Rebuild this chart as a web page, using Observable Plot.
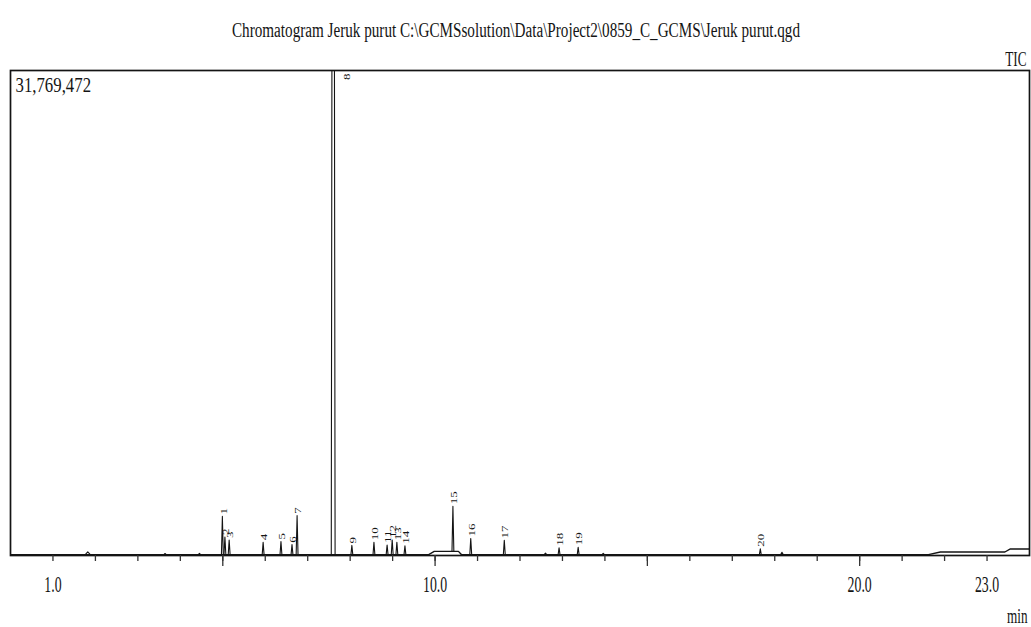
<!DOCTYPE html>
<html><head><meta charset="utf-8">
<script src="https://cdn.jsdelivr.net/npm/d3@7"></script>
<script src="https://cdn.jsdelivr.net/npm/@observablehq/plot@0.6"></script>
<style>html,body{margin:0;padding:0;background:#fff;} svg{display:block}</style>
</head><body><div id="chart"></div>
<script>
// ---- data ----
const chartTitle = "Chromatogram Jeruk purut C:\\GCMSsolution\\Data\\Project2\\0859_C_GCMS\\Jeruk purut.qgd";
const signalName = "TIC";
const unitName = "min";
const maxIntensity = 31769472;

const peakLabels  = ["1","2","3","4","5","6","7","8","9","10","11","12","13","14","15","16","17","18","19","20"];
const peakTimes   = [4.99, 5.05, 5.15, 5.95, 6.37, 6.63, 6.75, 7.60, 8.04, 8.56, 8.87, 8.99, 9.10, 9.29, 10.42, 10.84, 11.63, 12.92, 13.37, 17.66];
const peakHeights = [2500000, 1150000, 950000, 800000, 850000, 650000, 2550000, 31709472, 600000, 800000, 620000, 950000, 800000, 580000, 2950000, 1050000, 930000, 450000, 480000, 380000];

const minorPeakTimes   = [1.82, 3.64, 4.45, 12.60, 13.96, 18.17];
const minorPeakHeights = [180000, 70000, 80000, 100000, 80000, 150000];

const baselineTimes  = [0, 9.85, 9.98, 10.55, 10.62, 21.62, 21.9, 23.42, 23.55, 24];
const baselineValues = [60000, 60000, 270000, 270000, 60000, 60000, 230000, 230000, 430000, 430000];

const minorTicks   = [1,2,3,4,5,6,7,8,9,10,11,12,13,14,15,16,17,18,19,20,21,22,23];
const majorTicks   = [5, 10, 15, 20];
const xTickLabels  = [1, 10, 20, 23];

// ---- build tables ----
const baseAt = d3.scaleLinear().domain(baselineTimes).range(baselineValues);
const baseline = baselineTimes.map((t, i) => ({t, v: baselineValues[i]}));
const peaks = peakTimes.map((t, i) => ({t, h: peakHeights[i], label: peakLabels[i]}));
const minorPeaks = minorPeakTimes.map((t, i) => ({t, h: minorPeakHeights[i], label: ""}));

function halfWidth(p) {
  if (p.label === "") return p.t < 2 ? 0.06 : 0.03;
  return 0.022;
}
const peakPts = [];
[...peaks, ...minorPeaks].forEach((p, i) => {
  if (p.label === "8") {
    // saturated main peak: flat top at the scale maximum
    const w = 0.045, wt = 0.03;
    peakPts.push({t: p.t - w, v: baseAt(p.t - w), z: i});
    peakPts.push({t: p.t - wt, v: baseAt(p.t) + p.h, z: i});
    peakPts.push({t: p.t + wt, v: baseAt(p.t) + p.h, z: i});
    peakPts.push({t: p.t + w, v: baseAt(p.t + w), z: i});
    return;
  }
  const w = halfWidth(p);
  peakPts.push({t: p.t - w, v: baseAt(p.t - w), z: i});
  peakPts.push({t: p.t, v: baseAt(p.t) + p.h, z: i});
  peakPts.push({t: p.t + w, v: baseAt(p.t + w), z: i});
});
const labelled = peaks.filter(p => p.label !== "8").map(p => ({...p, top: baseAt(p.t) + p.h}));
const bigPeak = peaks.filter(p => p.label === "8");

const ink = "#141414";
const svg = Plot.plot({
  width: 1031,
  height: 627,
  marginLeft: 10,
  marginRight: 2,
  marginTop: 70,
  marginBottom: 72,
  style: {fontFamily: "Liberation Serif", fontSize: "13px", color: ink, background: "#fff", overflow: "visible"},
  x: {domain: [0, 24], label: null},
  y: {domain: [0, maxIntensity], axis: null, label: null},
  marks: [
    Plot.line(baseline, {x: "t", y: "v", stroke: ink, strokeWidth: 1.4, clip: true}),
    Plot.line(peakPts, {x: "t", y: "v", z: "z", stroke: ink, strokeWidth: 1.1, clip: true}),
    Plot.frame({stroke: ink, strokeWidth: 1.7}),
    Plot.axisX(minorTicks, {tickSize: 6, tickFormat: () => "", label: null, stroke: "#333", strokeWidth: 1.3}),
    Plot.axisX(majorTicks, {tickSize: 11, tickFormat: () => "", label: null, stroke: "#333", strokeWidth: 1.3}),
    Plot.text(xTickLabels, {x: d => d, text: d => d3.format(".1f")(d), frameAnchor: "bottom", lineAnchor: "middle",
      dy: 29, fontSize: 23, fill: ink}),
    Plot.text(labelled, {x: "t", y: "top", text: "label", rotate: -90, textAnchor: "start", dy: -2,
      fontSize: 13, fill: ink}),
    Plot.text(bigPeak, {x: "t", y: () => maxIntensity, text: "label", rotate: -90, textAnchor: "end",
      dx: 13, dy: 3, fontSize: 13, fill: ink}),
    Plot.text([maxIntensity], {text: d => d3.format(",")(d), frameAnchor: "top-left", textAnchor: "start",
      lineAnchor: "middle", dx: 5, dy: 15, fontSize: 21, fill: ink}),
    Plot.text([signalName], {text: d => d, frameAnchor: "top-right", textAnchor: "end", lineAnchor: "middle",
      dx: -3, dy: -12, fontSize: 22, fill: ink}),
    Plot.text([unitName], {text: d => d, frameAnchor: "bottom-right", textAnchor: "end", lineAnchor: "middle",
      dx: -2, dy: 60, fontSize: 22, fill: ink}),
    Plot.text([chartTitle], {text: d => d, frameAnchor: "top", lineAnchor: "middle", dx: -4, dy: -40,
      fontSize: 20, fill: ink})
  ]
});
document.getElementById("chart").append(svg);

// condensed look of the original print: scale each text about its own anchor (matrix based)
function squeeze(el, sx, sy) {
  const list = el.transform.baseVal;
  const m0 = list.numberOfItems ? list.consolidate().matrix : svg.createSVGMatrix();
  const ax = el.x.baseVal.numberOfItems ? el.x.baseVal.getItem(0).value : 0;
  const ay = el.y.baseVal.numberOfItems ? el.y.baseVal.getItem(0).value : 0;
  const m = m0.translate(ax, ay).scaleNonUniform(sx, sy).translate(-ax, -ay);
  if ([m.a, m.b, m.c, m.d, m.e, m.f].every(Number.isFinite)) {
    el.setAttribute("transform", `matrix(${m.a},${m.b},${m.c},${m.d},${m.e},${m.f})`);
  }
}
const tickTexts = new Set(xTickLabels.map(d => d3.format(".1f")(d)));
d3.select(svg).selectAll("text").each(function() {
  const s = this.textContent;
  const isRot = Math.abs((this.transform.baseVal.numberOfItems ? this.transform.baseVal.consolidate().matrix.b : 0)) > 0.5;
  if (s === chartTitle) {
    this.setAttribute("textLength", 568);
    this.setAttribute("lengthAdjust", "spacingAndGlyphs");
  } else if (isRot) {
    squeeze(this, 1, 0.7);
  } else if (tickTexts.has(s) || s === signalName || s === unitName) {
    squeeze(this, 0.6, 1);
  } else if (s === d3.format(",")(maxIntensity)) {
    squeeze(this, 0.8, 1);
  }
});
</script>
</body></html>
